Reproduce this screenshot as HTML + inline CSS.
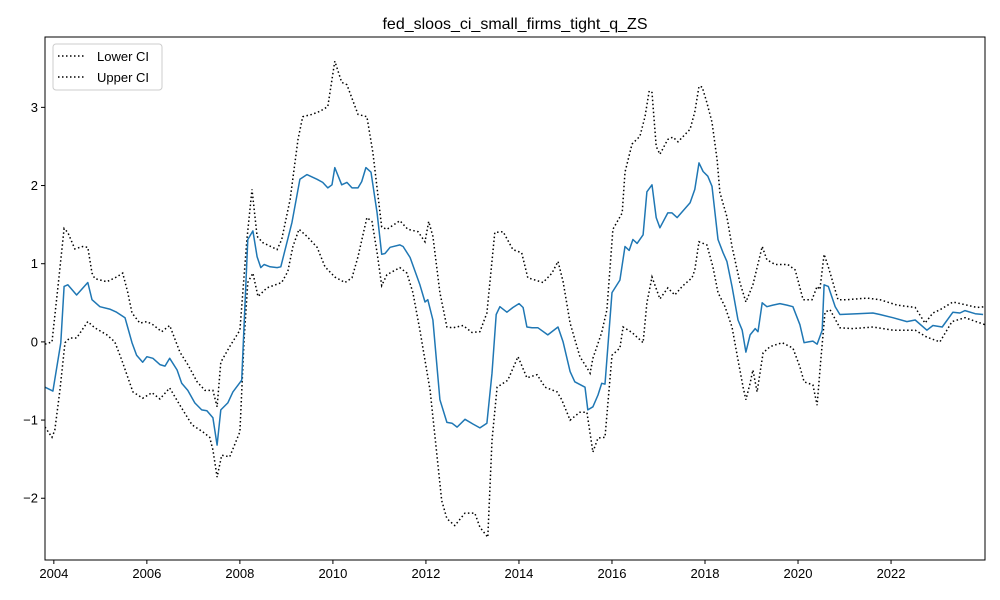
<!DOCTYPE html>
<html><head><meta charset="utf-8"><style>
body{margin:0;background:#fff}
svg{display:block;font-family:"Liberation Sans","DejaVu Sans",sans-serif}
</style></head><body>
<svg id="chart" width="1000" height="600">
<text x="515" y="29" text-anchor="middle" font-size="16" fill="#000">fed_sloos_ci_small_firms_tight_q_ZS</text>
<defs><clipPath id="clip"><rect x="45" y="37" width="940" height="523"/></clipPath></defs>
<g id="ticks"></g>
<g id="series" clip-path="url(#clip)"></g>
<rect x="45" y="37" width="940" height="523" fill="none" stroke="#000" stroke-width="1"/>
<g>
<rect x="53" y="44" width="109" height="46" rx="3" fill="#fff" fill-opacity="0.8" stroke="#ccc"/>
<g>
<line x1="58" y1="56" x2="86" y2="56" stroke="#000" stroke-width="1.5" stroke-dasharray="1.5,2.5"/>
<text x="97" y="61" font-size="13">Lower CI</text></g>
<g>
<line x1="58" y1="77" x2="86" y2="77" stroke="#000" stroke-width="1.5" stroke-dasharray="1.5,2.5"/>
<text x="97" y="82" font-size="13">Upper CI</text></g>
</g>
</svg>
<script>
const midDates=[2003.81,2003.98,2004.15,2004.22,2004.30,2004.49,2004.73,2004.82,2004.99,2005.20,2005.35,2005.53,2005.68,2005.78,2005.91,2006.00,2006.13,2006.28,2006.39,2006.49,2006.65,2006.75,2006.88,2007.03,2007.18,2007.29,2007.42,2007.51,2007.59,2007.74,2007.85,2008.04,2008.17,2008.28,2008.37,2008.45,2008.52,2008.65,2008.80,2008.88,2009.12,2009.29,2009.44,2009.66,2009.78,2009.89,2009.98,2010.04,2010.19,2010.30,2010.41,2010.54,2010.62,2010.71,2010.82,2010.95,2011.05,2011.12,2011.23,2011.44,2011.51,2011.66,2011.87,2011.98,2012.04,2012.15,2012.30,2012.45,2012.56,2012.67,2012.84,2013.01,2013.16,2013.31,2013.42,2013.51,2013.59,2013.74,2013.87,2014.00,2014.09,2014.17,2014.28,2014.41,2014.62,2014.84,2014.95,2015.10,2015.20,2015.42,2015.48,2015.59,2015.70,2015.78,2015.85,2016.00,2016.17,2016.28,2016.37,2016.45,2016.54,2016.67,2016.75,2016.86,2016.95,2017.03,2017.20,2017.29,2017.40,2017.68,2017.78,2017.87,2017.96,2018.06,2018.15,2018.28,2018.39,2018.47,2018.58,2018.71,2018.80,2018.88,2018.97,2019.08,2019.14,2019.23,2019.33,2019.46,2019.61,2019.76,2019.89,2020.04,2020.13,2020.22,2020.32,2020.41,2020.52,2020.56,2020.65,2020.80,2020.90,2021.27,2021.61,2021.76,2022.04,2022.34,2022.52,2022.77,2022.90,2023.10,2023.33,2023.48,2023.59,2023.81,2023.98];
const midValues=[-0.58,-0.63,-0.01,0.71,0.73,0.60,0.76,0.54,0.45,0.42,0.38,0.31,-0.01,-0.17,-0.26,-0.19,-0.21,-0.29,-0.31,-0.21,-0.36,-0.53,-0.62,-0.78,-0.87,-0.88,-0.97,-1.32,-0.87,-0.78,-0.64,-0.49,1.31,1.42,1.09,0.95,0.99,0.96,0.95,0.96,1.53,2.08,2.14,2.08,2.04,1.97,2.01,2.23,2.01,2.04,1.97,1.97,2.05,2.23,2.17,1.65,1.12,1.13,1.21,1.24,1.22,1.08,0.73,0.51,0.54,0.28,-0.74,-1.03,-1.04,-1.09,-0.99,-1.05,-1.10,-1.04,-0.40,0.35,0.45,0.38,0.44,0.49,0.44,0.19,0.18,0.18,0.09,0.19,0.00,-0.38,-0.51,-0.58,-0.87,-0.83,-0.68,-0.53,-0.54,0.63,0.79,1.22,1.17,1.31,1.26,1.37,1.92,2.01,1.59,1.46,1.65,1.65,1.59,1.78,1.95,2.29,2.18,2.12,1.99,1.31,1.14,1.03,0.71,0.28,0.15,-0.13,0.09,0.17,0.13,0.50,0.45,0.47,0.49,0.47,0.45,0.22,-0.01,0.00,0.01,-0.03,0.15,0.73,0.71,0.45,0.35,0.36,0.37,0.35,0.31,0.26,0.28,0.15,0.21,0.19,0.38,0.37,0.40,0.36,0.35];
const upperDates=[2003.81,2003.96,2004.09,2004.22,2004.30,2004.45,2004.62,2004.73,2004.82,2004.88,2005.14,2005.35,2005.48,2005.59,2005.68,2005.85,2006.00,2006.13,2006.32,2006.49,2006.71,2006.88,2007.08,2007.25,2007.42,2007.51,2007.59,2007.78,2008.00,2008.15,2008.26,2008.37,2008.49,2008.80,2008.90,2009.08,2009.25,2009.35,2009.55,2009.72,2009.89,2010.04,2010.19,2010.30,2010.54,2010.73,2010.86,2011.05,2011.16,2011.44,2011.61,2011.83,2011.98,2012.06,2012.15,2012.30,2012.45,2012.58,2012.80,2012.99,2013.16,2013.31,2013.48,2013.66,2013.87,2014.06,2014.19,2014.52,2014.71,2014.84,2014.95,2015.10,2015.31,2015.46,2015.53,2015.59,2015.78,2015.89,2016.02,2016.22,2016.28,2016.43,2016.60,2016.71,2016.80,2016.86,2016.95,2017.03,2017.20,2017.31,2017.42,2017.68,2017.78,2017.87,2017.94,2018.04,2018.15,2018.26,2018.32,2018.47,2018.58,2018.75,2018.88,2019.03,2019.23,2019.33,2019.51,2019.78,2019.94,2020.11,2020.30,2020.41,2020.47,2020.56,2020.65,2020.86,2021.05,2021.48,2021.76,2022.13,2022.52,2022.73,2022.90,2023.05,2023.33,2023.63,2023.85,2024.02];
const upperValues=[-0.03,0.00,0.71,1.45,1.40,1.19,1.22,1.21,0.88,0.81,0.77,0.83,0.88,0.63,0.37,0.24,0.26,0.22,0.13,0.21,-0.13,-0.29,-0.51,-0.62,-0.62,-0.83,-0.26,-0.06,0.15,1.31,1.95,1.35,1.27,1.18,1.31,1.82,2.59,2.88,2.91,2.95,3.01,3.59,3.32,3.29,2.91,2.88,2.42,1.47,1.44,1.55,1.44,1.41,1.28,1.54,1.35,0.63,0.19,0.18,0.21,0.12,0.13,0.37,1.40,1.41,1.18,1.14,0.82,0.76,0.88,1.03,0.77,0.24,-0.19,-0.33,-0.40,-0.21,0.12,0.41,1.44,1.65,2.17,2.53,2.63,2.88,3.21,3.19,2.50,2.40,2.59,2.62,2.56,2.72,2.94,3.27,3.26,3.06,2.81,2.33,1.91,1.60,1.22,0.76,0.51,0.73,1.22,1.05,0.99,0.99,0.92,0.54,0.54,0.71,0.67,1.12,0.96,0.54,0.54,0.56,0.54,0.47,0.44,0.24,0.37,0.41,0.51,0.47,0.44,0.45];
const lowerDates=[2003.81,2003.96,2004.02,2004.13,2004.24,2004.34,2004.49,2004.73,2004.88,2005.14,2005.31,2005.46,2005.70,2005.91,2006.11,2006.28,2006.49,2006.71,2006.97,2007.20,2007.35,2007.42,2007.51,2007.61,2007.78,2008.00,2008.09,2008.17,2008.28,2008.39,2008.58,2008.90,2009.03,2009.14,2009.27,2009.44,2009.66,2009.83,2010.04,2010.26,2010.41,2010.54,2010.73,2010.84,2010.95,2011.05,2011.16,2011.44,2011.59,2011.72,2011.87,2012.09,2012.24,2012.34,2012.45,2012.62,2012.84,2013.05,2013.16,2013.33,2013.42,2013.53,2013.66,2013.76,2013.98,2014.17,2014.39,2014.56,2014.82,2014.92,2015.10,2015.31,2015.46,2015.59,2015.70,2015.85,2016.00,2016.17,2016.24,2016.43,2016.67,2016.75,2016.86,2017.03,2017.20,2017.35,2017.51,2017.72,2017.78,2017.87,2018.04,2018.17,2018.28,2018.43,2018.58,2018.71,2018.82,2018.88,2018.97,2019.03,2019.12,2019.25,2019.40,2019.66,2019.89,2020.04,2020.13,2020.32,2020.41,2020.49,2020.58,2020.69,2020.90,2021.18,2021.61,2022.04,2022.52,2022.77,2023.05,2023.31,2023.59,2024.02];
const lowerValues=[-1.09,-1.22,-1.13,-0.62,-0.01,0.05,0.05,0.26,0.18,0.09,0.00,-0.23,-0.64,-0.72,-0.65,-0.73,-0.59,-0.81,-1.06,-1.15,-1.22,-1.38,-1.73,-1.45,-1.47,-1.15,0.03,0.76,0.88,0.58,0.69,0.76,0.90,1.22,1.44,1.35,1.21,0.96,0.83,0.76,0.82,1.09,1.59,1.54,1.14,0.72,0.86,0.95,0.88,0.63,0.15,-0.62,-1.47,-2.03,-2.26,-2.35,-2.19,-2.19,-2.37,-2.50,-1.26,-0.58,-0.53,-0.49,-0.19,-0.46,-0.42,-0.58,-0.64,-0.74,-1.00,-0.90,-0.90,-1.41,-1.23,-1.22,-0.17,-0.08,0.19,0.12,-0.01,0.50,0.83,0.55,0.69,0.60,0.71,0.82,0.92,1.28,1.24,0.96,0.63,0.45,0.19,-0.23,-0.58,-0.74,-0.53,-0.36,-0.64,-0.14,-0.06,-0.01,-0.08,-0.32,-0.51,-0.55,-0.81,-0.23,0.38,0.41,0.18,0.17,0.19,0.15,0.15,0.06,0.00,0.26,0.31,0.22];
const xTickValues=[2004,2006,2008,2010,2012,2014,2016,2018,2020,2022];
const yTickValues=[-2,-1,0,1,2,3];

const X0=45,X1=985,Y0=37,Y1=560;
const xMin=2003.81,xMax=2024.02,yMin=-2.79,yMax=3.90;
const xs=v=>X0+(v-xMin)/(xMax-xMin)*(X1-X0);
const ys=v=>Y1-(v-yMin)/(yMax-yMin)*(Y1-Y0);
const NS='http://www.w3.org/2000/svg';
const ticks=document.getElementById('ticks');
const series=document.getElementById('series');
function mk(tag,attrs,parent){const e=document.createElementNS(NS,tag);for(const k in attrs)e.setAttribute(k,attrs[k]);parent.appendChild(e);return e;}
xTickValues.forEach(v=>{
  const x=xs(v);
  const t=mk('line',{x1:x,y1:Y1,x2:x,y2:Y1+4,stroke:'#000'},ticks);
  
  
  const l=mk('text',{x:x,y:Y1+18,'text-anchor':'middle','font-size':'13'},ticks);
  l.textContent=String(v);
  
  
});
yTickValues.forEach(v=>{
  const y=ys(v);
  const t=mk('line',{x1:X0-4,y1:y,x2:X0,y2:y,stroke:'#000'},ticks);
  
  
  const l=mk('text',{x:X0-7,y:y+4.5,'text-anchor':'end','font-size':'13'},ticks);
  l.textContent=v<0?'\u2212'+Math.abs(v):String(v);
  
  
});
function path(dates,vals){return dates.map((d,i)=>(i?'L':'M')+xs(d).toFixed(1)+','+ys(vals[i]).toFixed(1)).join('');}
const pl=mk('path',{d:path(lowerDates,lowerValues),fill:'none',stroke:'#000','stroke-width':'1.5','stroke-dasharray':'1.5,2.5'},series);


const pu=mk('path',{d:path(upperDates,upperValues),fill:'none',stroke:'#000','stroke-width':'1.5','stroke-dasharray':'1.5,2.5'},series);


const pm=mk('path',{d:path(midDates,midValues),fill:'none',stroke:'#1f77b4','stroke-width':'1.5','stroke-linejoin':'round'},series);


</script>
</body></html>
